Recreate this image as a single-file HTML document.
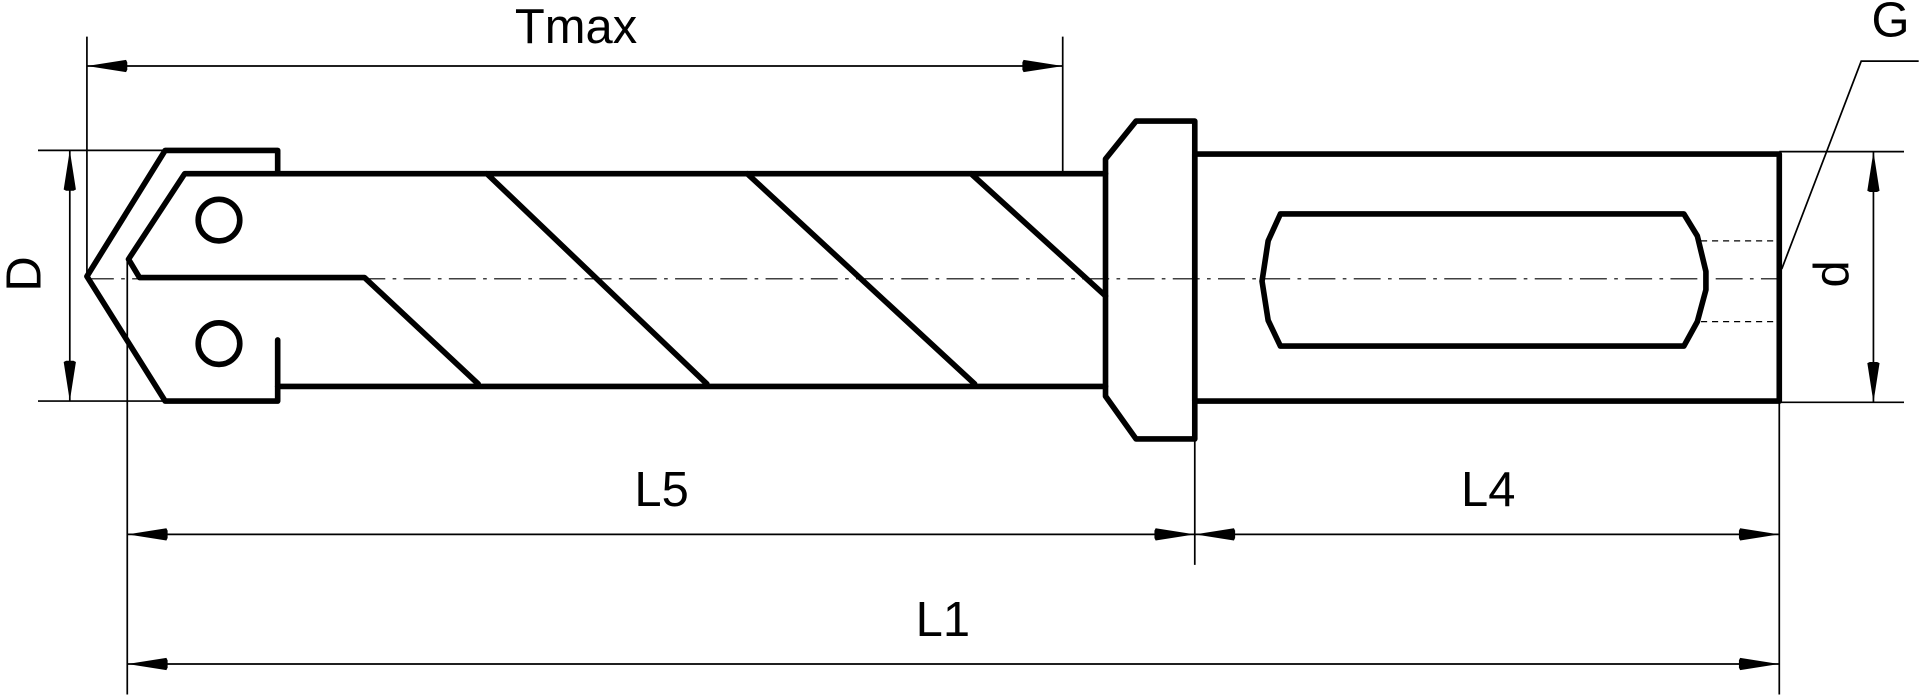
<!DOCTYPE html>
<html><head><style>html,body{margin:0;padding:0;background:#fff}svg{display:block}</style></head>
<body>
<svg width="1920" height="697" viewBox="0 0 1568 570" xmlns="http://www.w3.org/2000/svg" font-family="Liberation Sans, sans-serif">
<defs>
<marker id="a" viewBox="0 0 34 12" refX="34" refY="6" markerWidth="34" markerHeight="12" markerUnits="userSpaceOnUse" orient="auto-start-reverse">
<path d="M34,6 L2,1 L1,3 L1,9 L2,11 Z" fill="#000"/>
</marker>
</defs>
<g stroke="#000" stroke-width="1.4" fill="none">
<line x1="70" y1="30" x2="70" y2="228"/>
<line x1="868" y1="30" x2="868" y2="140"/>
<line x1="30" y1="123" x2="135" y2="123"/>
<line x1="30" y1="328" x2="135" y2="328"/>
<line x1="1454" y1="124" x2="1556" y2="124"/>
<line x1="1454" y1="329" x2="1556" y2="329"/>
<line x1="103" y1="212" x2="103" y2="568"/>
<line x1="976" y1="359" x2="976" y2="462"/>
<line x1="1454" y1="328" x2="1454" y2="568"/>
<polyline points="1456,220 1521,50 1568,50"/>
<line x1="70" y1="54" x2="868" y2="54" marker-start="url(#a)" marker-end="url(#a)"/>
<line x1="56" y1="123" x2="56" y2="328" marker-start="url(#a)" marker-end="url(#a)"/>
<line x1="1531" y1="124" x2="1531" y2="329" marker-start="url(#a)" marker-end="url(#a)"/>
<line x1="103" y1="437" x2="976" y2="437" marker-start="url(#a)" marker-end="url(#a)"/>
<line x1="976" y1="437" x2="1454" y2="437" marker-start="url(#a)" marker-end="url(#a)"/>
<line x1="103" y1="543" x2="1454" y2="543" marker-start="url(#a)" marker-end="url(#a)"/>
</g>
<g stroke="#000" stroke-width="1" fill="none">
<line x1="70" y1="228" x2="1452" y2="228" stroke-dasharray="22,6,3,6"/>
<line x1="1390" y1="197" x2="1452" y2="197" stroke-dasharray="5,4"/>
<line x1="1390" y1="263" x2="1452" y2="263" stroke-dasharray="5,4"/>
</g>
<g stroke="#000" stroke-width="4.6" fill="none" stroke-linejoin="round" stroke-linecap="round">
<polyline points="226,140 226,123 134,123 70,226 134,328 226,328 226,278"/>
<polyline points="903,142 150,142 104,212 113,227 297,227 390,314"/>
<line x1="226" y1="316" x2="903" y2="316"/>
<line x1="397" y1="142" x2="577" y2="314"/>
<line x1="610" y1="142" x2="796" y2="314"/>
<line x1="793" y1="142" x2="903" y2="242"/>
<circle cx="178" cy="180" r="17"/>
<circle cx="178" cy="281" r="17"/>
<polygon points="903,130 928,99 976,99 976,359 928,359 903,324"/>
<rect x="976" y="126" width="478" height="202"/>
<polygon points="1046,175 1376,175 1387,193 1394,222 1394,237 1387,263 1376,283 1046,283 1036,262 1031,230 1036,197"/>
</g>
<g font-size="40" fill="#000" text-anchor="middle">
<text x="470" y="35">Tmax</text>
<text x="540" y="414">L5</text>
<text x="1216" y="414">L4</text>
<text x="770" y="520">L1</text>
<text x="1545" y="30">G</text>
<text transform="translate(32,224) rotate(-90)">D</text>
<text transform="translate(1510,224) rotate(-90)">d</text>
</g>
</svg>
</body></html>
